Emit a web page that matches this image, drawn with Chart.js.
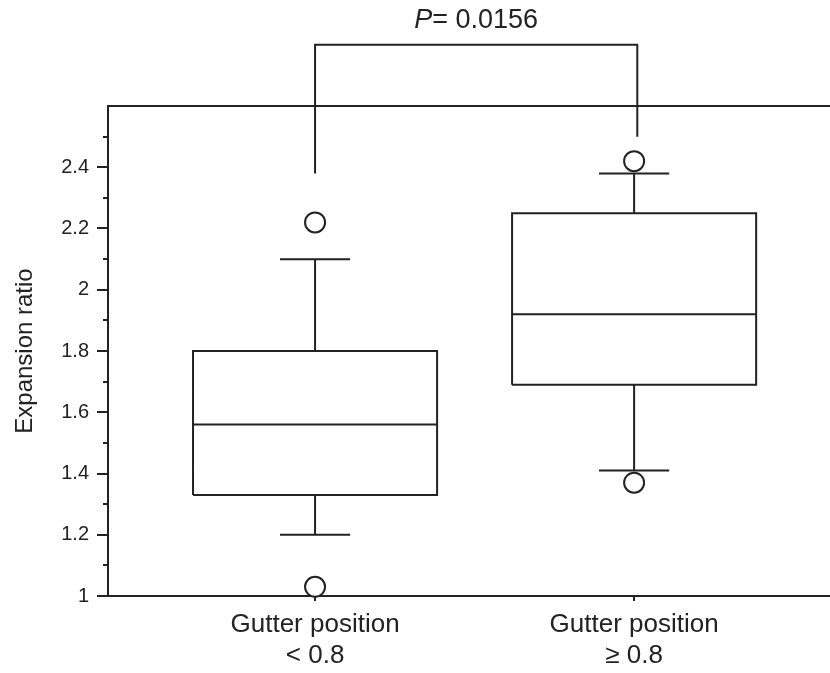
<!DOCTYPE html>
<html><head><meta charset="utf-8">
<script src="https://cdn.jsdelivr.net/npm/chart.js@4.4.1/dist/chart.umd.min.js"></script>
<style>html,body{margin:0;padding:0;background:#fff;overflow:hidden}</style>
</head><body>
<canvas id="c" width="830" height="673"></canvas>
<script>
// ---- data ----
const categories = [['Gutter position', '< 0.8'], ['Gutter position', '\u2265 0.8']];
const positions = [1, 2];
const whiskerLow = [1.20, 1.41];
const q1 = [1.33, 1.69];
const median = [1.56, 1.92];
const q3 = [1.80, 2.25];
const whiskerHigh = [2.10, 2.38];
const outlierLow = [1.03, 1.37];
const outlierHigh = [2.22, 2.42];
const bracketX = [1.00, 2.01];
const bracketFeet = [2.38, 2.50];
const bracketTop = 2.80;
const pLabel = ['P', '= 0.0156'];
const pLabelY = 2.88;
const yTickLabels = ['1', '1.2', '1.4', '1.6', '1.8', '2', '2.2', '2.4'];

// ---- styles ----
const INK = '#222';
const FONT = "'Liberation Sans', Arial, sans-serif";
const BOX_HALF = 0.3825;
const CAP_HALF = 0.11;

// build box outline / whisker segments from the arrays
const boxPts = [];
positions.forEach((p, i) => {
  const gap = {x: p, y: null};
  boxPts.push({x: p - BOX_HALF, y: q1[i]}, {x: p + BOX_HALF, y: q1[i]},
              {x: p + BOX_HALF, y: q3[i]}, {x: p - BOX_HALF, y: q3[i]},
              {x: p - BOX_HALF, y: q1[i]}, gap);
  boxPts.push({x: p - BOX_HALF, y: median[i]}, {x: p + BOX_HALF, y: median[i]}, gap);
  boxPts.push({x: p, y: q3[i]}, {x: p, y: whiskerHigh[i]}, gap);
  boxPts.push({x: p - CAP_HALF, y: whiskerHigh[i]}, {x: p + CAP_HALF, y: whiskerHigh[i]}, gap);
  boxPts.push({x: p, y: q1[i]}, {x: p, y: whiskerLow[i]}, gap);
  boxPts.push({x: p - CAP_HALF, y: whiskerLow[i]}, {x: p + CAP_HALF, y: whiskerLow[i]}, gap);
});
const outlierPts = [];
positions.forEach((p, i) => {
  outlierPts.push({x: p, y: outlierLow[i]}, {x: p, y: outlierHigh[i]});
});
const bracketPts = [
  {x: bracketX[0], y: bracketFeet[0]}, {x: bracketX[0], y: bracketTop},
  {x: bracketX[1], y: bracketTop}, {x: bracketX[1], y: bracketFeet[1]}
];

const pValuePlugin = {
  id: 'pvalue',
  afterDraw(chart) {
    const {ctx, scales: {x, y}} = chart;
    const cx = x.getPixelForValue((bracketX[0] + bracketX[1]) / 2);
    const cy = y.getPixelForValue(pLabelY);
    const size = 27;
    ctx.save();
    ctx.fillStyle = INK;
    ctx.textBaseline = 'middle';
    ctx.font = 'italic ' + size + 'px ' + FONT;
    const w1 = ctx.measureText(pLabel[0]).width;
    ctx.font = size + 'px ' + FONT;
    const w2 = ctx.measureText(pLabel[1]).width;
    const sx = cx - (w1 + w2) / 2;
    ctx.font = 'italic ' + size + 'px ' + FONT;
    ctx.fillText(pLabel[0], sx, cy);
    ctx.font = size + 'px ' + FONT;
    ctx.fillText(pLabel[1], sx + w1, cy);
    ctx.restore();
  }
};

const noPad = s => { s.paddingLeft = 0; s.paddingRight = 0; s.paddingTop = 0; s.paddingBottom = 0; };

new Chart(document.getElementById('c'), {
  type: 'scatter',
  data: {
    datasets: [
      {data: boxPts, showLine: true, spanGaps: false, borderColor: INK, borderWidth: 2,
       pointRadius: 0, tension: 0, fill: false},
      {data: bracketPts, showLine: true, borderColor: INK, borderWidth: 2,
       pointRadius: 0, tension: 0, fill: false, clip: false},
      {data: outlierPts, showLine: false, pointRadius: 10, pointBorderWidth: 2,
       pointBackgroundColor: '#fff', pointBorderColor: INK, clip: false}
    ]
  },
  options: {
    responsive: false,
    animation: false,
    devicePixelRatio: 1,
    layout: {autoPadding: false, padding: {top: 106, left: 0, right: 0, bottom: 0}},
    plugins: {legend: {display: false}, tooltip: {enabled: false}},
    scales: {
      x: {
        type: 'linear', position: 'bottom', min: 0.351, max: 2.614,
        afterBuildTicks: s => { s.ticks = positions.map(v => ({value: v})); },
        afterFit: s => { s.height = 77; noPad(s); },
        grid: {drawOnChartArea: false, drawTicks: true, tickLength: 5, color: INK, lineWidth: 2},
        border: {display: true, color: INK, width: 2},
        ticks: {
          autoSkip: false, maxRotation: 0, padding: 8, color: INK,
          font: {family: FONT, size: 26, lineHeight: 1.2},
          callback: v => categories[positions.indexOf(v)] || ''
        }
      },
      x2: {
        type: 'linear', position: 'top', min: 0.351, max: 2.614,
        afterFit: s => { s.height = 0; noPad(s); },
        grid: {display: false, drawTicks: false},
        border: {display: true, color: INK, width: 2},
        ticks: {display: false}
      },
      y: {
        type: 'linear', position: 'left', min: 1, max: 2.6,
        afterBuildTicks: s => {
          const t = [];
          for (let k = 0; k <= 15; k++) t.push({value: Math.round((1 + k * 0.1) * 10) / 10});
          s.ticks = t;
        },
        afterFit: s => { s.width = 108; noPad(s); },
        grid: {
          drawOnChartArea: false, drawTicks: true, tickLength: 11, color: INK, lineWidth: 2,
          tickBorderDash: ctx => (ctx.tick && Math.round(ctx.tick.value * 10) % 2 === 1) ? [0, 6, 5, 50] : []
        },
        border: {display: true, color: INK, width: 2},
        ticks: {
          padding: 8, color: INK, font: {family: FONT, size: 20},
          callback: v => {
            const k = Math.round((v - 1) * 10);
            return k % 2 === 0 ? (yTickLabels[k / 2] || '') : '';
          }
        },
        title: {display: true, text: 'Expansion ratio', color: INK,
               font: {family: FONT, size: 24}, padding: {top: 11, bottom: 0}}
      }
    }
  },
  plugins: [pValuePlugin]
});
</script>
</body></html>
